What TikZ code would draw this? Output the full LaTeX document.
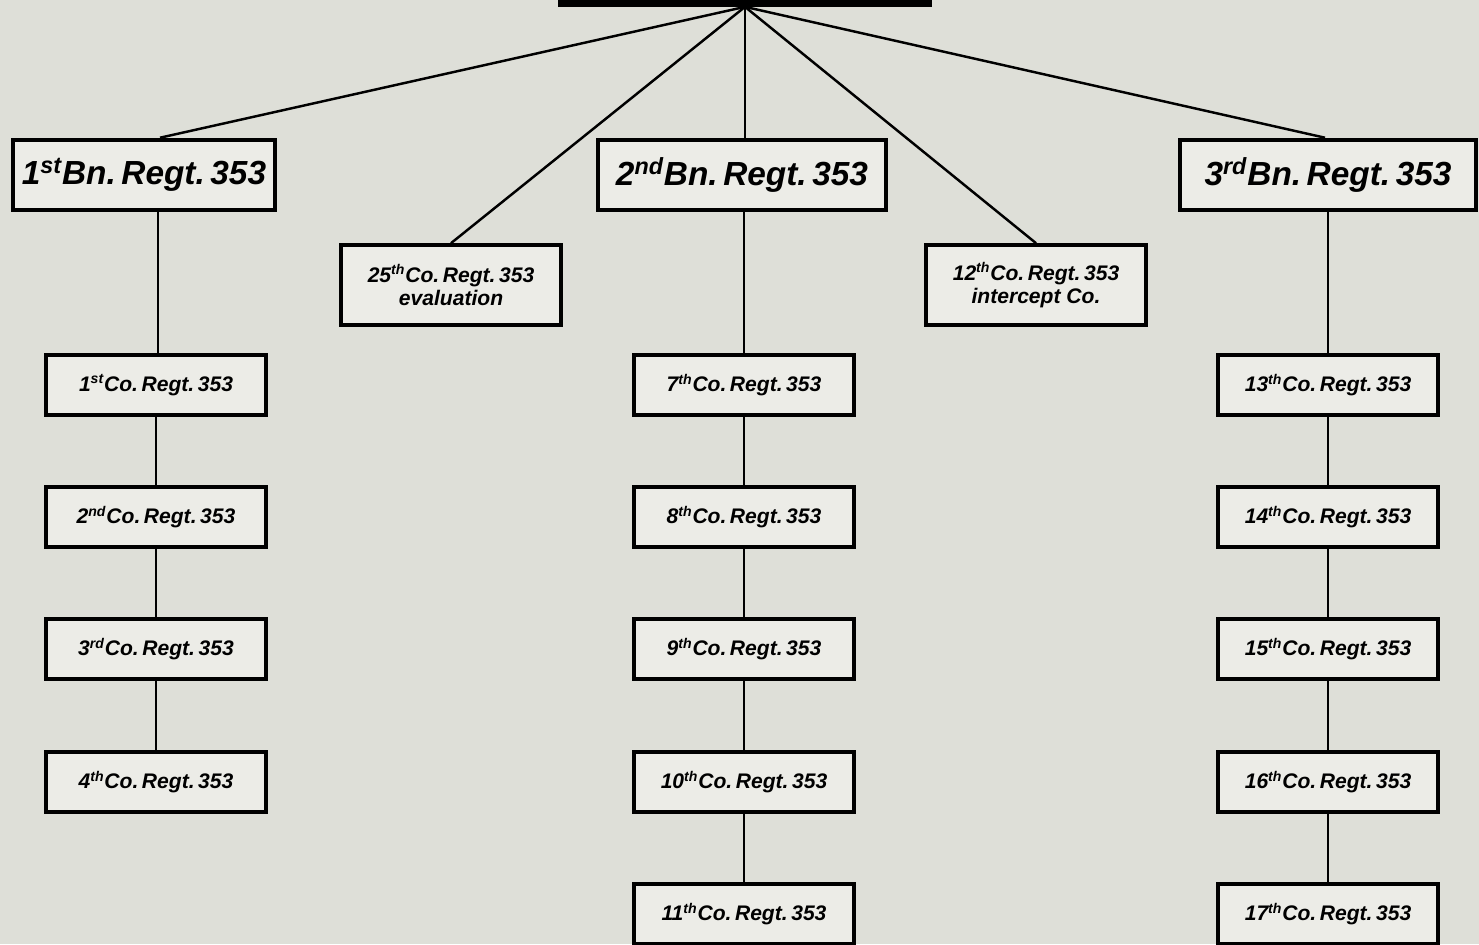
\documentclass[tikz,border=0pt]{standalone}
\usepackage{fontspec}
\setmainfont{Liberation Sans}
\definecolor{paper}{RGB}{222,223,216}
\definecolor{card}{RGB}{236,236,231}

\begin{document}
\begin{tikzpicture}[x=0.02cm, y=-0.02cm,
	bnbox/.style={draw=black, line width=2.6pt, fill=card, minimum height=1.4cm, font=\fontsize{19}{21}\selectfont\bfseries\itshape},
	cobox/.style={draw=black, line width=2.1pt, fill=card, minimum width=4.4cm, minimum height=1.2cm, font=\fontsize{12}{14}\selectfont\bfseries\itshape},
	sidebox/.style={draw=black, line width=2.1pt, fill=card, minimum width=4.4cm, minimum height=1.6cm, align=center, font=\fontsize{12}{13}\selectfont\bfseries\itshape},
	link/.style={line width=1.4pt}]
	\fill[paper] (0,0) rectangle (1479,944);
	\useasboundingbox (0,0) rectangle (1479,944);
	\clip (0,0) rectangle (1479,944);
	% head of the regiment, cut off at the top
	\node[fill=black, minimum width=7.48cm, minimum height=0.86cm, inner sep=0pt] (regt) at (745,-15) {};
	% battalions
	\node[bnbox, minimum width=5.24cm] (bn1) at (144,175) {1\textsuperscript{st}Bn.\,Regt.\,353};
	\node[bnbox, minimum width=5.76cm] (bn2) at (742,175) {2\textsuperscript{nd}Bn.\,Regt.\,353};
	\node[bnbox, minimum width=5.92cm] (bn3) at (1328,175) {3\textsuperscript{rd}Bn.\,Regt.\,353};
	\node[sidebox] (co25) at (451,285) {25\textsuperscript{th}Co.\,Regt.\,353\\evaluation};
	\node[sidebox] (co12) at (1036,285) {12\textsuperscript{th}Co.\,Regt.\,353\\intercept Co.};
	\draw[link] (regt.south) -- (bn1.north -| 160,0);
	\draw[link] (regt.south) -- (co25.north);
	\draw[link] (regt.south) -- (bn2.north -| regt.south);
	\draw[link] (regt.south) -- (co12.north);
	\draw[link] (regt.south) -- (bn3.north -| 1325,0);
	% companies
	\node[cobox] (co1) at (156,385) {1\textsuperscript{st}Co.\,Regt.\,353};
	\node[cobox] (co2) at (156,517) {2\textsuperscript{nd}Co.\,Regt.\,353};
	\node[cobox] (co3) at (156,649) {3\textsuperscript{rd}Co.\,Regt.\,353};
	\node[cobox] (co4) at (156,782) {4\textsuperscript{th}Co.\,Regt.\,353};
	\node[cobox] (co7) at (744,385) {7\textsuperscript{th}Co.\,Regt.\,353};
	\node[cobox] (co8) at (744,517) {8\textsuperscript{th}Co.\,Regt.\,353};
	\node[cobox] (co9) at (744,649) {9\textsuperscript{th}Co.\,Regt.\,353};
	\node[cobox] (co10) at (744,782) {10\textsuperscript{th}Co.\,Regt.\,353};
	\node[cobox] (co11) at (744,914) {11\textsuperscript{th}Co.\,Regt.\,353};
	\node[cobox] (co13) at (1328,385) {13\textsuperscript{th}Co.\,Regt.\,353};
	\node[cobox] (co14) at (1328,517) {14\textsuperscript{th}Co.\,Regt.\,353};
	\node[cobox] (co15) at (1328,649) {15\textsuperscript{th}Co.\,Regt.\,353};
	\node[cobox] (co16) at (1328,782) {16\textsuperscript{th}Co.\,Regt.\,353};
	\node[cobox] (co17) at (1328,914) {17\textsuperscript{th}Co.\,Regt.\,353};
	\draw[link] (co1.north -| 158,0) -- (bn1.south -| 158,0);
	\draw[link] (co1) -- (co2) (co2) -- (co3) (co3) -- (co4);
	\draw[link] (bn2.south -| co7) -- (co7) (co7) -- (co8) (co8) -- (co9) (co9) -- (co10) (co10) -- (co11);
	\draw[link] (bn3) -- (co13) (co13) -- (co14) (co14) -- (co15) (co15) -- (co16) (co16) -- (co17);
\end{tikzpicture}
\end{document}
